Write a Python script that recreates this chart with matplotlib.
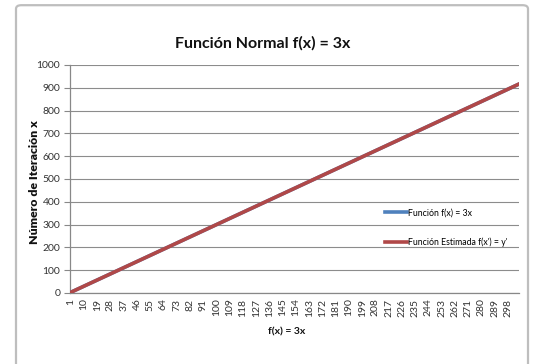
import matplotlib
matplotlib.use("Agg")
import matplotlib.pyplot as plt
from matplotlib.patches import FancyBboxPatch

# ---------------- data ----------------
iterations = list(range(1, 306))  # category axis 1..305

function_values = [
    3, 6, 9, 12, 15, 18, 21, 24, 27, 30,
    33, 36, 39, 42, 45, 48, 51, 54, 57, 60,
    63, 66, 69, 72, 75, 78, 81, 84, 87, 90,
    93, 96, 99, 102, 105, 108, 111, 114, 117, 120,
    123, 126, 129, 132, 135, 138, 141, 144, 147, 150,
    153, 156, 159, 162, 165, 168, 171, 174, 177, 180,
    183, 186, 189, 192, 195, 198, 201, 204, 207, 210,
    213, 216, 219, 222, 225, 228, 231, 234, 237, 240,
    243, 246, 249, 252, 255, 258, 261, 264, 267, 270,
    273, 276, 279, 282, 285, 288, 291, 294, 297, 300,
    303, 306, 309, 312, 315, 318, 321, 324, 327, 330,
    333, 336, 339, 342, 345, 348, 351, 354, 357, 360,
    363, 366, 369, 372, 375, 378, 381, 384, 387, 390,
    393, 396, 399, 402, 405, 408, 411, 414, 417, 420,
    423, 426, 429, 432, 435, 438, 441, 444, 447, 450,
    453, 456, 459, 462, 465, 468, 471, 474, 477, 480,
    483, 486, 489, 492, 495, 498, 501, 504, 507, 510,
    513, 516, 519, 522, 525, 528, 531, 534, 537, 540,
    543, 546, 549, 552, 555, 558, 561, 564, 567, 570,
    573, 576, 579, 582, 585, 588, 591, 594, 597, 600,
    603, 606, 609, 612, 615, 618, 621, 624, 627, 630,
    633, 636, 639, 642, 645, 648, 651, 654, 657, 660,
    663, 666, 669, 672, 675, 678, 681, 684, 687, 690,
    693, 696, 699, 702, 705, 708, 711, 714, 717, 720,
    723, 726, 729, 732, 735, 738, 741, 744, 747, 750,
    753, 756, 759, 762, 765, 768, 771, 774, 777, 780,
    783, 786, 789, 792, 795, 798, 801, 804, 807, 810,
    813, 816, 819, 822, 825, 828, 831, 834, 837, 840,
    843, 846, 849, 852, 855, 858, 861, 864, 867, 870,
    873, 876, 879, 882, 885, 888, 891, 894, 897, 900,
    903, 906, 909, 912, 915,
]
# estimated series is visually identical to the exact one
estimated_values = list(function_values)

series_names = ["Función f(x) = 3x", "Función Estimada f(x') = y'"]
title_text = "Función Normal f(x) = 3x"
xlabel_text = "f(x) = 3x"
ylabel_text = "Número de Iteración x"
y_ticks = [0, 100, 200, 300, 400, 500, 600, 700, 800, 900, 1000]
x_tick_labels = [str(i) for i in iterations[::9]]

# ---------------- fonts ----------------
plt.rcParams["font.family"] = ["Lato", "DejaVu Sans"]

W, H = 534, 364
fig = plt.figure(figsize=(W / 100, H / 100), dpi=100)
fig.patch.set_facecolor("white")

# chart border
border = FancyBboxPatch((16 / W, -0.05), (528 - 16) / W, (H + 18 - 5) / H,
                        boxstyle="round,pad=0,rounding_size=0.01",
                        transform=fig.transFigure, fill=False,
                        edgecolor="#BEBEBE", linewidth=1.6)
fig.patches.append(border)

left, right, top, bottom = 70, 519, 65, 293
ax = fig.add_axes([left / W, (H - bottom) / H, (right - left) / W, (bottom - top) / H])

ax.plot(iterations, function_values, color="#4F81BD", linewidth=2.6,
        label=series_names[0], zorder=3)
ax.plot(iterations, estimated_values, color="#B04848", linewidth=2.6,
        label=series_names[1], zorder=4)

ax.set_xlim(0.5, len(iterations) + 0.5)
ax.set_ylim(0, 1000)
ax.set_yticks(y_ticks)
ax.set_yticklabels([str(v) for v in y_ticks], fontsize=7.5)
ax.set_xticks(iterations[::9])
ax.set_xticklabels(x_tick_labels, rotation=90, fontsize=7.5)
ax.tick_params(axis="x", length=0, pad=4, colors="#333333")
ax.tick_params(axis="y", length=4, width=0.8, pad=3, colors="#333333")
ax.tick_params(axis="y", color="#888888")

ax.grid(axis="y", color="#8C8C8C", linewidth=0.8)
ax.set_axisbelow(True)
for s in ["top", "right"]:
    ax.spines[s].set_visible(False)
for s in ["left", "bottom"]:
    ax.spines[s].set_color("#888888")
    ax.spines[s].set_linewidth(0.9)

fig.text(263 / W, 1 - 43 / H, title_text, ha="center", va="center",
         fontsize=11.5, fontweight="bold", color="#111111")
fig.text(287 / W, 1 - 332 / H, xlabel_text, ha="center", va="center",
         fontsize=7.5, fontweight="bold", color="#111111")
fig.text(35 / W, 1 - 182 / H, ylabel_text, ha="center", va="center",
         rotation=90, fontsize=8.8, fontweight="heavy", color="#111111")

leg = ax.legend(loc="upper left",
                bbox_to_anchor=((381 - left) / (right - left), (bottom - 205) / (bottom - top)),
                frameon=False, fontsize=6.3, handlelength=2.6, handletextpad=0.1,
                labelspacing=2.3, borderaxespad=0)

fig.savefig("out.png", dpi=100, facecolor="white")
